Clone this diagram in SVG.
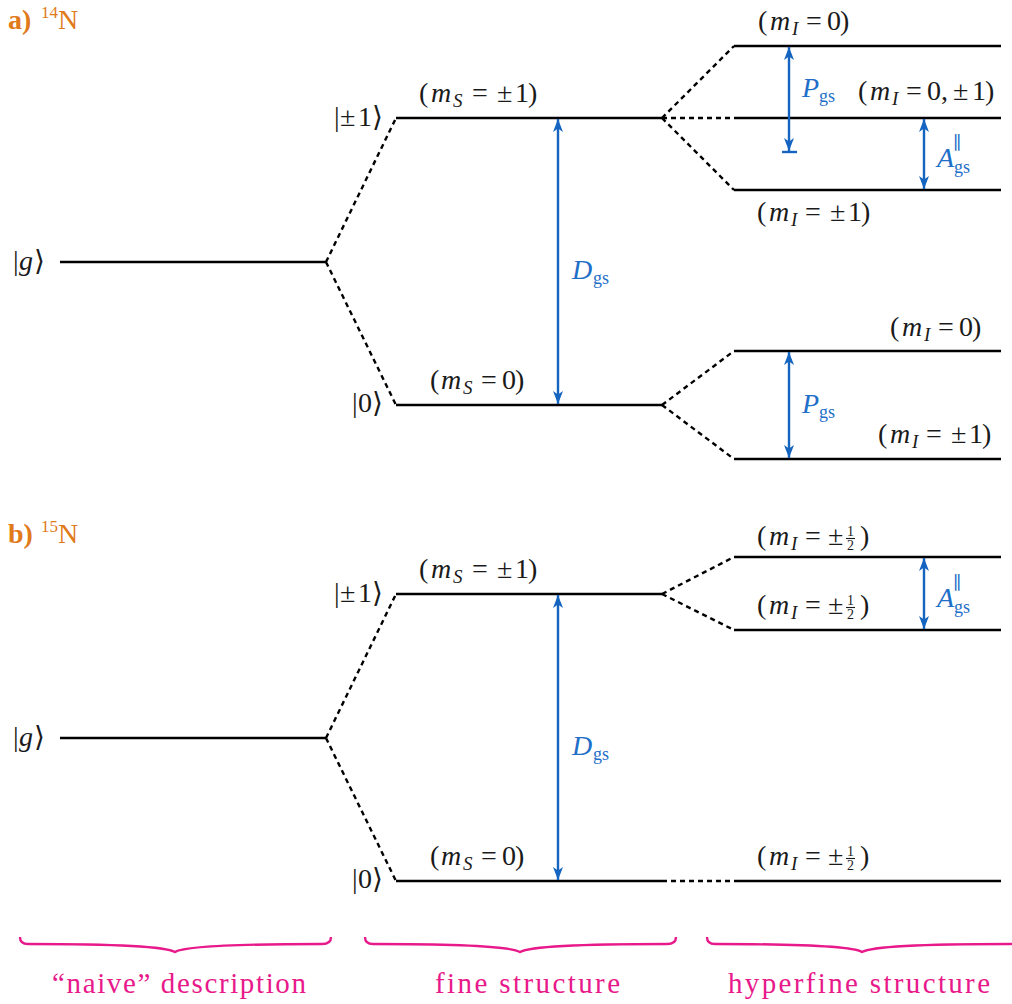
<svg xmlns="http://www.w3.org/2000/svg" width="1012" height="1004" viewBox="0 0 1012 1004" font-family="'Liberation Serif', 'DejaVu Serif', serif">
<defs>
<style>
text{font-family:'Liberation Serif','DejaVu Serif',serif;fill:#1a1a1a;font-size:28px}
.it{font-style:italic}
.sub{font-size:19px;font-style:italic}
.lvl{stroke:#000;stroke-width:2.6;fill:none}
.dash{stroke:#000;stroke-width:2.4;fill:none;stroke-dasharray:5 4}
.arr{stroke:#1565c0;stroke-width:2.4;fill:none}
.fbar{stroke:#1a1a1a;stroke-width:1.1}
.blue{fill:#1f6fc8}
.bsub{fill:#1f6fc8;font-size:18px}
.orange{fill:#e07a1a}
.sup{font-size:17px}
.pink{fill:#e8198b;font-size:29px}
.brace{stroke:#e8198b;stroke-width:2.4;fill:none}
.frac{font-size:14px}
</style>
<marker id="ah" viewBox="-14 -6 15 12" refX="0" refY="0" markerWidth="15" markerHeight="12" markerUnits="userSpaceOnUse" orient="auto-start-reverse">
<path d="M0,0 L-13,-5 L-9.5,0 L-13,5 z" fill="#1565c0"/>
</marker>
</defs>
<rect width="1012" height="1004" fill="#fff"/>

<!-- Panel a -->
<g id="title-a"><text x="8" y="29" class="orange" font-weight="bold">a)</text><text x="41" y="18" class="orange sup">14</text><text x="58" y="29" class="orange">N</text></g>

<g id="a-g"><line class="lvl" x1="60" y1="262" x2="326" y2="262"/>
<text y="270"><tspan x="13">|</tspan><tspan x="19" class="it">g</tspan><tspan x="34">⟩</tspan></text></g>
<g id="a-pm1"><line class="lvl" x1="396" y1="118" x2="662" y2="118"/>
<text y="126"><tspan x="334">|</tspan><tspan x="340">±</tspan><tspan x="358">1</tspan><tspan x="372">⟩</tspan></text>
<text y="102"><tspan x="419">(</tspan><tspan x="431" class="it">m</tspan><tspan x="453" dy="5" class="sub">S</tspan><tspan x="472" dy="-5">=</tspan><tspan x="497">±</tspan><tspan x="515">1</tspan><tspan x="528">)</tspan></text></g>
<g id="a-0"><line class="lvl" x1="396" y1="405" x2="662" y2="405"/>
<text y="412"><tspan x="352">|</tspan><tspan x="358">0</tspan><tspan x="372">⟩</tspan></text>
<text y="389"><tspan x="430">(</tspan><tspan x="441" class="it">m</tspan><tspan x="463" dy="5" class="sub">S</tspan><tspan x="481" dy="-5">=</tspan><tspan x="502">0</tspan><tspan x="515">)</tspan></text></g>

<g id="a-hf1"><line class="lvl" x1="734" y1="46" x2="1001" y2="46"/>
<text y="30"><tspan x="758">(</tspan><tspan x="770" class="it">m</tspan><tspan x="792" dy="5" class="sub">I</tspan><tspan x="806" dy="-5">=</tspan><tspan x="827">0</tspan><tspan x="840">)</tspan></text></g>
<g id="a-hf2"><line class="lvl" x1="734" y1="118" x2="1001" y2="118"/>
<text y="100"><tspan x="858">(</tspan><tspan x="870" class="it">m</tspan><tspan x="892" dy="5" class="sub">I</tspan><tspan x="906" dy="-5">=</tspan><tspan x="927">0</tspan><tspan x="941">,</tspan><tspan x="953">±</tspan><tspan x="972">1</tspan><tspan x="985">)</tspan></text></g>
<g id="a-hf3"><line class="lvl" x1="734" y1="190" x2="1001" y2="190"/>
<text y="221"><tspan x="757">(</tspan><tspan x="769" class="it">m</tspan><tspan x="791" dy="5" class="sub">I</tspan><tspan x="805" dy="-5">=</tspan><tspan x="830">±</tspan><tspan x="848">1</tspan><tspan x="861">)</tspan></text></g>
<g id="a-hf4"><line class="lvl" x1="734" y1="351" x2="1001" y2="351"/>
<text y="336"><tspan x="890">(</tspan><tspan x="902" class="it">m</tspan><tspan x="924" dy="5" class="sub">I</tspan><tspan x="938" dy="-5">=</tspan><tspan x="959">0</tspan><tspan x="972">)</tspan></text></g>
<g id="a-hf5"><line class="lvl" x1="734" y1="459" x2="1001" y2="459"/>
<text y="443"><tspan x="878">(</tspan><tspan x="890" class="it">m</tspan><tspan x="912" dy="5" class="sub">I</tspan><tspan x="926" dy="-5">=</tspan><tspan x="951">±</tspan><tspan x="969">1</tspan><tspan x="982">)</tspan></text></g>

<!-- Panel b -->
<g id="title-b"><text x="8" y="543" class="orange" font-weight="bold">b)</text><text x="41" y="532" class="orange sup">15</text><text x="58" y="543" class="orange">N</text></g>

<g id="b-g"><line class="lvl" x1="60" y1="738" x2="326" y2="738"/>
<text y="746"><tspan x="13">|</tspan><tspan x="19" class="it">g</tspan><tspan x="34">⟩</tspan></text></g>
<g id="b-pm1"><line class="lvl" x1="396" y1="594" x2="662" y2="594"/>
<text y="602"><tspan x="334">|</tspan><tspan x="340">±</tspan><tspan x="358">1</tspan><tspan x="372">⟩</tspan></text>
<text y="578"><tspan x="419">(</tspan><tspan x="431" class="it">m</tspan><tspan x="453" dy="5" class="sub">S</tspan><tspan x="472" dy="-5">=</tspan><tspan x="497">±</tspan><tspan x="515">1</tspan><tspan x="528">)</tspan></text></g>
<g id="b-0"><line class="lvl" x1="396" y1="881" x2="662" y2="881"/>
<text y="888"><tspan x="352">|</tspan><tspan x="358">0</tspan><tspan x="372">⟩</tspan></text>
<text y="865"><tspan x="430">(</tspan><tspan x="441" class="it">m</tspan><tspan x="463" dy="5" class="sub">S</tspan><tspan x="481" dy="-5">=</tspan><tspan x="502">0</tspan><tspan x="515">)</tspan></text></g>

<g id="b-hf1"><line class="lvl" x1="734" y1="557" x2="1001" y2="557"/>
<text y="545"><tspan x="757">(</tspan><tspan x="769" class="it">m</tspan><tspan x="791" dy="5" class="sub">I</tspan><tspan x="805" dy="-5">=</tspan><tspan x="828">±</tspan><tspan x="847" dy="-9" class="frac">1</tspan><tspan x="847" dy="14" class="frac">2</tspan><tspan x="860" dy="-5">)</tspan></text>
<line class="fbar" x1="846" y1="538.5" x2="855" y2="538.5"/></g>
<g id="b-hf2"><line class="lvl" x1="734" y1="630" x2="1001" y2="630"/>
<text y="614"><tspan x="757">(</tspan><tspan x="769" class="it">m</tspan><tspan x="791" dy="5" class="sub">I</tspan><tspan x="805" dy="-5">=</tspan><tspan x="828">±</tspan><tspan x="847" dy="-9" class="frac">1</tspan><tspan x="847" dy="14" class="frac">2</tspan><tspan x="860" dy="-5">)</tspan></text>
<line class="fbar" x1="846" y1="607.5" x2="855" y2="607.5"/></g>
<g id="b-hf3"><line class="lvl" x1="734" y1="881" x2="1001" y2="881"/>
<text y="865"><tspan x="757">(</tspan><tspan x="769" class="it">m</tspan><tspan x="791" dy="5" class="sub">I</tspan><tspan x="805" dy="-5">=</tspan><tspan x="828">±</tspan><tspan x="847" dy="-9" class="frac">1</tspan><tspan x="847" dy="14" class="frac">2</tspan><tspan x="860" dy="-5">)</tspan></text>
<line class="fbar" x1="846" y1="858.5" x2="855" y2="858.5"/></g>

<!-- Connectors -->
<g id="connectors">
<path class="dash" d="M326,262 L396,118 M326,262 L396,405"/>
<path class="dash" d="M662,118 L734,46 M662,118 L734,118 M662,118 L734,190"/>
<path class="dash" d="M662,405 L734,351 M662,405 L734,459"/>
<path class="dash" d="M326,738 L396,594 M326,738 L396,881"/>
<path class="dash" d="M662,594 L734,557 M662,594 L734,630"/>
<path class="dash" d="M662,881 L734,881"/>

<line class="arr" x1="558" y1="119" x2="558" y2="404" marker-start="url(#ah)" marker-end="url(#ah)"/>
<line class="arr" x1="789" y1="47" x2="789" y2="151" marker-start="url(#ah)" marker-end="url(#ah)"/>
<line class="arr" x1="782" y1="152" x2="797" y2="152"/>
<line class="arr" x1="924" y1="119" x2="924" y2="189" marker-start="url(#ah)" marker-end="url(#ah)"/>
<line class="arr" x1="789" y1="352" x2="789" y2="458" marker-start="url(#ah)" marker-end="url(#ah)"/>
<line class="arr" x1="558" y1="595" x2="558" y2="880" marker-start="url(#ah)" marker-end="url(#ah)"/>
<line class="arr" x1="924" y1="558" x2="924" y2="629" marker-start="url(#ah)" marker-end="url(#ah)"/>

<text x="572" y="279" class="blue it">D</text><text x="593" y="284" class="bsub">gs</text>
<text x="572" y="755" class="blue it">D</text><text x="593" y="760" class="bsub">gs</text>
<text x="802" y="97" class="blue it">P</text><text x="819" y="102" class="bsub">gs</text>
<text x="802" y="413" class="blue it">P</text><text x="819" y="418" class="bsub">gs</text>
<text x="937" y="167" class="blue it">A</text><text x="953" y="149" class="bsub">∥</text><text x="954" y="173" class="bsub">gs</text>
<text x="937" y="607" class="blue it">A</text><text x="953" y="589" class="bsub">∥</text><text x="954" y="613" class="bsub">gs</text>
</g>

<!-- Braces -->
<g id="brace-naive"><path class="brace" d="M20,937 Q20,944 28,944 C110,944 165,946 175,952 C185,946 240,944 322,944 Q331,944 331,937"/>
<text x="52" y="993" class="pink" textLength="254" lengthAdjust="spacing">“naive” description</text></g>
<g id="brace-fine"><path class="brace" d="M365,937 Q365,944 373,944 C455,944 510,946 520,952 C530,946 585,944 667,944 Q676,944 676,937"/>
<text x="435" y="993" class="pink" textLength="185" lengthAdjust="spacing">fine structure</text></g>
<g id="brace-hyperfine"><path class="brace" d="M707,937 Q707,944 715,944 C797,944 852,946 862,952 C872,946 927,944 1009,944 Q1017,944 1017,937"/>
<text x="728" y="993" class="pink" textLength="262" lengthAdjust="spacing">hyperfine structure</text></g>
</svg>
